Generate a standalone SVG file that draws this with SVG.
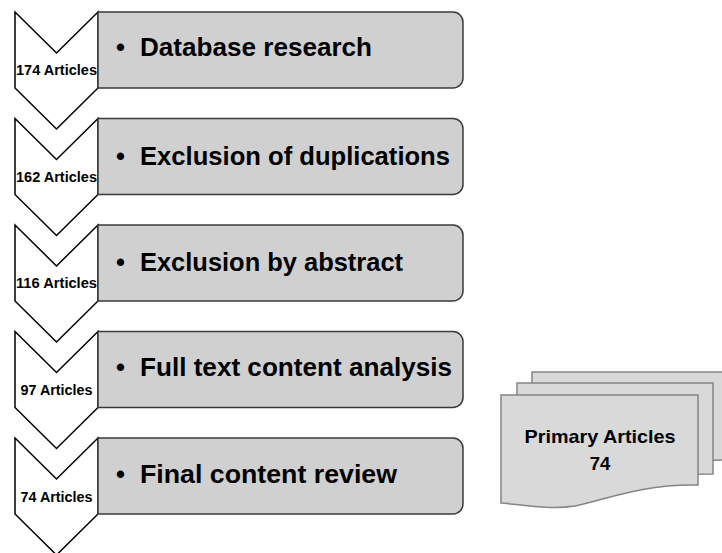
<svg xmlns="http://www.w3.org/2000/svg" width="722" height="553" viewBox="0 0 722 553">
<style>
.chev{fill:#ffffff;stroke:#000000;stroke-width:1.5;stroke-linejoin:miter}
.box{fill:#d0d0d0;stroke:#3a3a3a;stroke-width:1.5}
.doc{fill:#d9d9d9;stroke:#858585;stroke-width:1.5}
.cnt{font-family:"Liberation Sans",Arial,sans-serif;font-weight:bold;font-size:14.5px;fill:#000;text-anchor:middle}
.lbl{font-family:"Liberation Sans",Arial,sans-serif;font-weight:bold;font-size:25.5px;fill:#000}
.dtx{font-family:"Liberation Sans",Arial,sans-serif;font-weight:bold;font-size:18.5px;fill:#000;text-anchor:middle}
</style>
<defs>
<path id="chevShape" d="M15,0 L56.5,41 L98,0 L98,76 L56.5,117 L15,76 Z"/>
<path id="boxShape" d="M98,0 H453 A10,10 0 0 1 463,10 V66 A10,10 0 0 1 453,76 H98 Z"/>
</defs>

<g id="step1" transform="translate(0,12)">
<use href="#chevShape" class="chev"/>
<use href="#boxShape" class="box"/>
<text class="cnt" x="56.5" y="63" textLength="81" lengthAdjust="spacingAndGlyphs">174 Articles</text>
<text class="lbl" x="116" y="44">•<tspan x="140" textLength="232" lengthAdjust="spacingAndGlyphs">Database research</tspan></text>
</g>

<g id="step2" transform="translate(0,118.5)">
<use href="#chevShape" class="chev"/>
<use href="#boxShape" class="box"/>
<text class="cnt" x="56.5" y="63" textLength="81" lengthAdjust="spacingAndGlyphs">162 Articles</text>
<text class="lbl" x="116" y="46">•<tspan x="140" textLength="310" lengthAdjust="spacingAndGlyphs">Exclusion of duplications</tspan></text>
</g>

<g id="step3" transform="translate(0,225)">
<use href="#chevShape" class="chev"/>
<use href="#boxShape" class="box"/>
<text class="cnt" x="56.5" y="63" textLength="81" lengthAdjust="spacingAndGlyphs">116 Articles</text>
<text class="lbl" x="116" y="46">•<tspan x="140" textLength="263" lengthAdjust="spacingAndGlyphs">Exclusion by abstract</tspan></text>
</g>

<g id="step4" transform="translate(0,331.5)">
<use href="#chevShape" class="chev"/>
<use href="#boxShape" class="box"/>
<text class="cnt" x="56.5" y="63" textLength="72" lengthAdjust="spacingAndGlyphs">97 Articles</text>
<text class="lbl" x="116" y="44">•<tspan x="140" textLength="312" lengthAdjust="spacingAndGlyphs">Full text content analysis</tspan></text>
</g>

<g id="step5" transform="translate(0,438)">
<use href="#chevShape" class="chev"/>
<use href="#boxShape" class="box"/>
<text class="cnt" x="56.5" y="64" textLength="72" lengthAdjust="spacingAndGlyphs">74 Articles</text>
<text class="lbl" x="116" y="45">•<tspan x="140" textLength="257" lengthAdjust="spacingAndGlyphs">Final content review</tspan></text>
</g>

<g id="primary-articles">
<path class="doc" d="M532,372 H740 V460 H730 C660,460 600,470 532,480 Z"/>
<path class="doc" d="M517,383 H713 V474 C650,474 600,480 517,492 Z"/>
<path class="doc" d="M501,395 H698 V485 C640,484 605,500 575,506 C550,510 525,505 501,503 Z"/>
<text class="dtx" x="600" y="443" textLength="151" lengthAdjust="spacingAndGlyphs">Primary Articles</text>
<text class="dtx" x="600" y="470">74</text>
</g>
</svg>
